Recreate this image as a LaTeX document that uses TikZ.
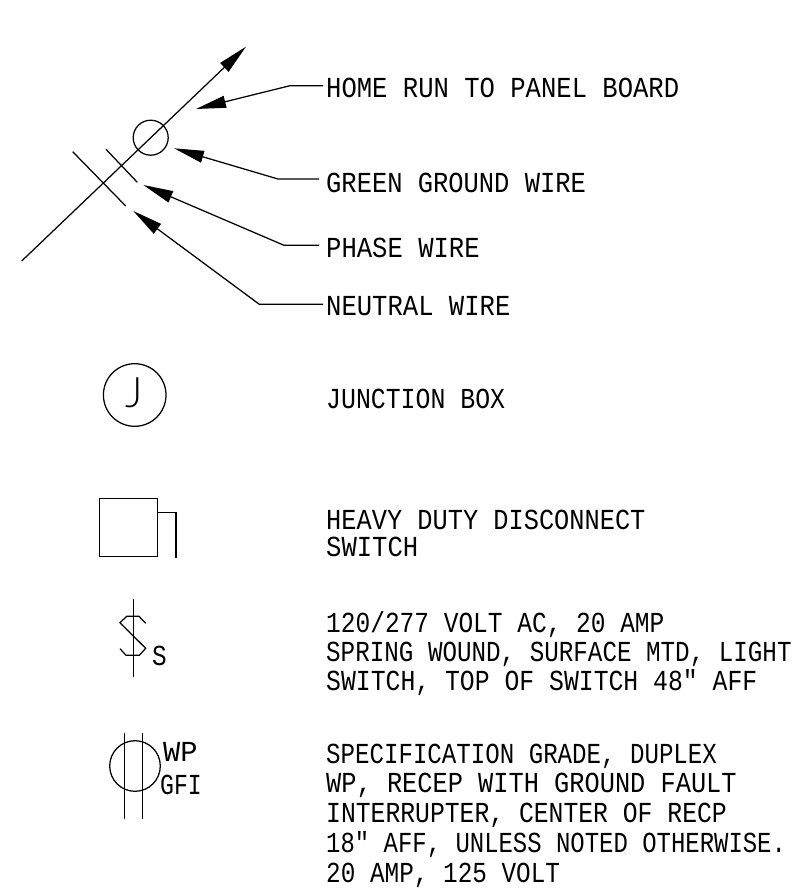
\documentclass[tikz,border=0pt]{standalone}
\usepackage{fontspec}
\usetikzlibrary{arrows.meta}
\newfontfamily\cadfont[FakeStretch=0.84]{Liberation Mono}
\newfontfamily\cadsans{Lato Light}
\newcommand{\cadline}[2]{\scalebox{#1}[1]{#2}}
\tikzset{
    wire/.style={line width=1.25pt},
    leader/.style={line width=1.25pt,-{Triangle[length=30pt,width=12pt]}},
    cadtext/.style={anchor=base west,inner sep=0pt,font=\cadfont\fontsize{29}{29}\selectfont}
}
\begin{document}
\begin{tikzpicture} [x=1pt,y=-1pt]
                        \useasboundingbox (0,0) rectangle (792,890);

                        % Legend text
                        \node [cadtext] (home) at (326,98) {\cadline{1.05}{HOME RUN TO PANEL BOARD}};
                        \node [cadtext] (ground) at (326,193) {\cadline{1.045}{GREEN GROUND WIRE}};
                        \node [cadtext] (phase) at (326,258) {\cadline{1.05}{PHASE WIRE}};
                        \node [cadtext] (neutral) at (326,315) {\cadline{1.05}{NEUTRAL WIRE}};
                        \node [cadtext] (junction) at (326,408) {\cadline{1.02}{JUNCTION BOX}};
                        \node [cadtext] (duty) at (326,529) {\cadline{1.04}{HEAVY DUTY DISCONNECT}};
                        \node [cadtext] (dutyb) at (326,556) {\cadline{1.05}{SWITCH}};
                        \node [cadtext] (volt) at (326,632) {\cadline{1.006}{120/277 VOLT AC, 20 AMP}};
                        \node [cadtext] (spring) at (326,661) {\cadline{0.995}{SPRING WOUND, SURFACE MTD, LIGHT}};
                        \node [cadtext] (top) at (326,690) {\cadline{1.017}{SWITCH, TOP OF SWITCH 48″ AFF}};
                        \node [cadtext] (spec) at (326,763) {\cadline{0.99}{SPECIFICATION GRADE, DUPLEX}};
                        \node [cadtext] (recep) at (326,792) {\cadline{1.04}{WP, RECEP WITH GROUND FAULT}};
                        \node [cadtext] (center) at (326,822) {\cadline{1.015}{INTERRUPTER, CENTER OF RECP}};
                        \node [cadtext] (aff) at (326,852) {\cadline{0.983}{18″ AFF, UNLESS NOTED OTHERWISE.}};
                        \node [cadtext] (amp) at (326,882) {\cadline{1}{20 AMP, 125 VOLT}};

                        % Home run
                        \draw [leader] (21.7,261) -- (246,46.7);
                        \draw [wire] (150.7,137.7) circle [radius=17.5];
                        \draw [wire] (72.7,151.7) -- (125.7,206);
                        \draw [wire] (106,149.3) -- (137.3,182.3);

                        % Leaders
                        \coordinate (homebend) at (290,85.7);
                        \coordinate (groundbend) at (278,179);
                        \coordinate (phasebend) at (284,245.3);
                        \coordinate (neutralbend) at (259.3,304.3);
                        \coordinate (hometip) at (196,109);
                        \coordinate (groundtip) at (174,148.3);
                        \coordinate (phasetip) at (143.3,185);
                        \coordinate (neutraltip) at (133.3,211);
                        \draw [leader] ([xshift=-3pt]home.west |- homebend) -- (homebend) -- (hometip);
                        \draw [leader] ([xshift=-7pt]ground.west |- groundbend) -- (groundbend) -- (groundtip);
                        \draw [leader] ([xshift=-7pt]phase.west |- phasebend) -- (phasebend) -- (phasetip);
                        \draw [leader] ([xshift=-3pt]neutral.west |- neutralbend) -- (neutralbend) -- (neutraltip);

                        % Junction box
                        \draw [wire] (134.7,395) circle [radius=31.3];
                        \node [inner sep=0pt,anchor=base,font=\cadsans\fontsize{42}{42}\selectfont] (jbox) at (134,407) {J};

                        % Disconnect
                        \draw [wire] (99.3,498.7) rectangle (157.7,556.7);
                        \draw [wire] (157.7,512.3) -- (176,512.3) -- (176,558.3);

                        % Switch
                        \draw [wire] (133.3,599.3) -- (133.3,677.3);
                        \draw [wire] (145.7,623.3) -- (139,616.3) -- (126.7,616.3) -- (120,622.7) -- (145.7,648.3) -- (139.3,655.3) -- (126,655.3) -- (120,648.7);
                        \node [cadtext] (swlabel) at (152,665.7) {S};

                        % Receptacle
                        \draw [wire] (135,766) circle [radius=25.3];
                        \draw [wire] (124.7,733.3) -- (124.7,819.3);
                        \draw [wire] (142.7,733.3) -- (142.7,819.3);
                        \node [cadtext] (wplabel) at (163,761.7) {\cadline{1.18}{WP}};
                        \node [cadtext] (gfilabel) at (160,794.3) {\cadline{0.95}{GFI}};
\end{tikzpicture}
\end{document}
